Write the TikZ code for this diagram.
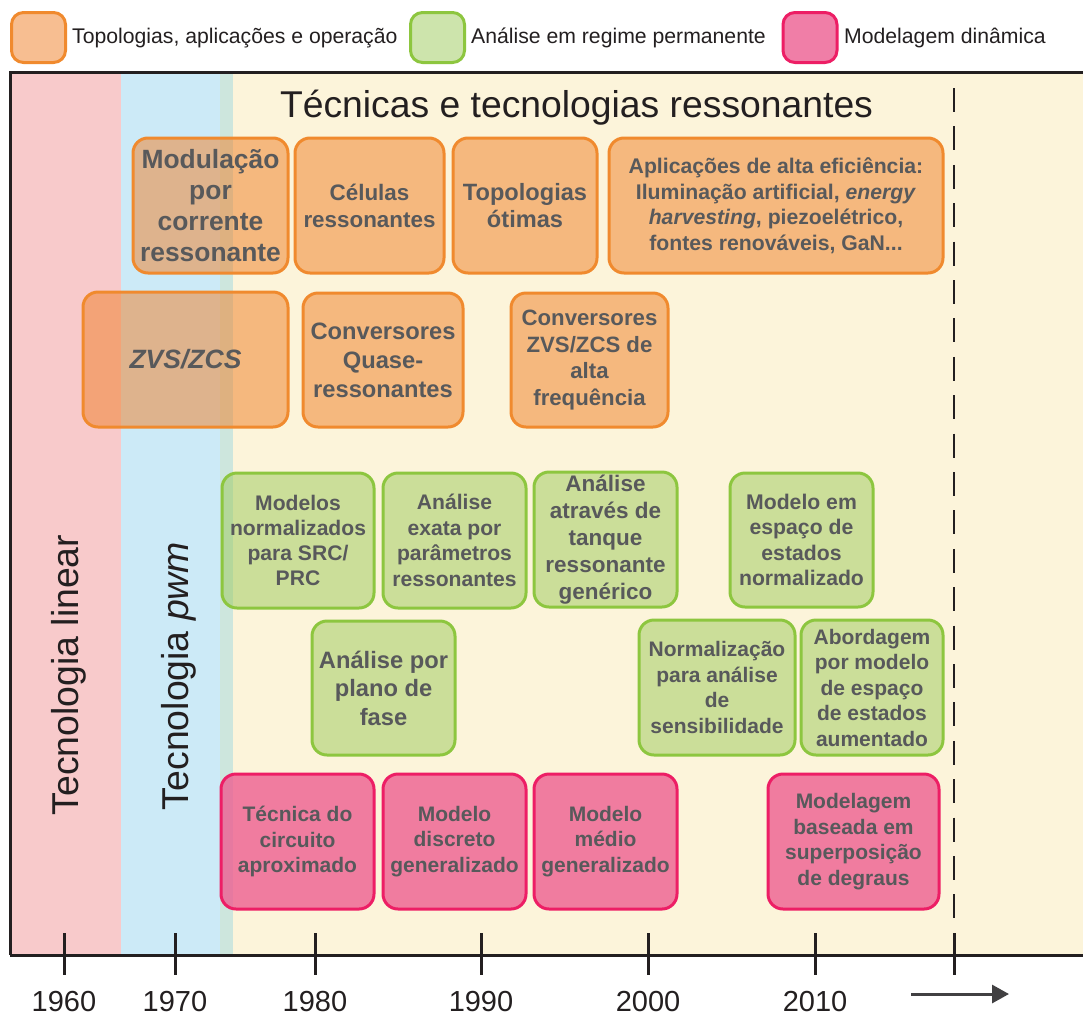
\documentclass[tikz,border=0pt]{standalone}
\usepackage{fontspec}
\setmainfont{Liberation Sans}
\usetikzlibrary{arrows.meta}

\definecolor{txtgray}{HTML}{58595B}
\definecolor{ink}{HTML}{231F20}
\definecolor{arrowgray}{HTML}{414042}
\definecolor{bandpink}{HTML}{F8CACB}
\definecolor{bandblue}{HTML}{CCEAF7}
\definecolor{bandteal}{HTML}{CDE6DD}
\definecolor{bandcream}{HTML}{FCF4DA}
\definecolor{orgline}{HTML}{F08A2E}
\definecolor{orgfill}{RGB}{240,126,36}
\definecolor{grnline}{HTML}{8DC63F}
\definecolor{grnfill}{RGB}{156,202,90}
\definecolor{pnkline}{HTML}{ED1E65}
\definecolor{pnkfill}{RGB}{237,94,145}

\tikzset{
  topicbox/.style={rounded corners=15pt, line width=3pt, inner sep=0pt,
    align=center, text=txtgray, text opacity=1},
  orgbox/.style={topicbox, draw=orgline, fill=orgfill, fill opacity=0.5},
  grnbox/.style={topicbox, draw=grnline, fill=grnfill, fill opacity=0.5},
  pnkbox/.style={topicbox, draw=pnkline, fill=pnkfill, fill opacity=0.8},
  swatch/.style={rounded corners=12pt, line width=3pt, minimum width=54pt,
    minimum height=50pt, inner sep=0pt},
  legendtext/.style={anchor=base west, inner sep=0pt, text=ink,
    font=\fontsize{21.2}{25}\selectfont},
  yearlabel/.style={anchor=base, inner sep=0pt, text=ink,
    font=\fontsize{29}{33}\selectfont},
  eralabel/.style={rotate=90, anchor=base, inner sep=0pt, text=ink,
    font=\fontsize{37.4}{40}\selectfont},
  frameline/.style={line width=3pt, draw=ink},
  tickline/.style={line width=3pt, draw=ink},
}

% box: style, name, x1, y1, x2, y2, font size, leading, text
\newcommand\topic[9]{%
  \node[#1, minimum width={#5-#3}, minimum height={#6-#4},
        font={\fontsize{#7}{#8}\selectfont\bfseries}]
    (#2) at ({(#3+#5)/2},{(#4+#6)/2}) {#9};}

\begin{document}
\begin{tikzpicture}[x=1pt,y=-1pt]
\useasboundingbox (0,0) rectangle (1083,1015);
\fill[white] (0,0) rectangle (1083,1015);

% legend
\node[swatch, draw=orgline, fill=orgfill, fill opacity=0.5] (lgo) at (38.5,37.5) {};
\node[legendtext] (lgot) at (72,43) {Topologias, aplicações e operação};
\node[swatch, draw=grnline, fill=grnfill, fill opacity=0.5] (lgg) at (437.5,37.5) {};
\node[legendtext] (lggt) at (471,43) {Análise em regime permanente};
\node[swatch, draw=pnkline, fill=pnkfill, fill opacity=0.8] (lgp) at (810,37.5) {};
\node[legendtext] (lgpt) at (844,43) {Modelagem dinâmica};

% eras
\fill[bandpink]  (10,72) rectangle (121,955);
\fill[bandblue]  (121,72) rectangle (220,955);
\fill[bandteal]  (220,72) rectangle (233,955);
\fill[bandcream] (233,72) rectangle (1083,955);

\node[eralabel] (linear) at (78,675) {Tecnologia linear};
\node[eralabel] (pwm) at (188,676) {Tecnologia \textit{pwm}};

\node[anchor=base, inner sep=0pt, text=ink, font=\fontsize{37.3}{40}\selectfont]
  (title) at (576.5,117) {Técnicas e tecnologias ressonantes};

% frame
\draw[frameline] (10,955) -- (10,72) -- (1083,72);

% today marker
\draw[line width=2.6pt, draw=ink, dash pattern=on 24pt off 14.4pt] (954,88) -- (954,925);

% topologies, applications and operation
\topic{orgbox}{mod}{133}{138}{288}{273}{26.4}{31}{Modulação\\por\\corrente\\ressonante}
\topic{orgbox}{cel}{295}{138}{444}{273}{22.4}{27}{Células\\ressonantes}
\topic{orgbox}{topo}{453}{138}{597}{273}{23.6}{27}{Topologias\\ótimas}
\topic{orgbox}{apl}{609}{138}{943}{273}{21.2}{25.5}{Aplicações de alta eficiência:\\Iluminação artificial, \textit{energy}\\\textit{harvesting}, piezoelétrico,\\fontes renováveis, GaN...}
\topic{orgbox}{zvs}{83}{292}{288}{427}{26.5}{31}{\textit{ZVS/ZCS}}
\topic{orgbox}{cqr}{303}{293}{463}{427}{23.7}{29}{Conversores\\Quase-\\ressonantes}
\topic{orgbox}{czvs}{511}{293}{668}{427}{22.2}{26.7}{Conversores\\ZVS/ZCS de\\alta\\frequência}

% steady-state analysis
\topic{grnbox}{mnorm}{222}{473}{374}{608}{21.1}{25}{Modelos\\normalizados\\para SRC/\\PRC}
\topic{grnbox}{aexata}{383}{473}{526}{608}{21.1}{25.5}{Análise\\exata por\\parâmetros\\ressonantes}
\topic{grnbox}{atanque}{534}{472}{677}{607}{22.5}{27}{Análise\\através de\\tanque\\ressonante\\genérico}
\topic{grnbox}{mesp}{730}{473}{873}{607}{21.2}{25.5}{Modelo em\\espaço de\\estados\\normalizado}
\topic{grnbox}{aplano}{312}{621}{455}{755}{23.7}{28.5}{Análise por\\plano de\\fase}
\topic{grnbox}{nsens}{639}{620}{795}{755}{21}{25.7}{Normalização\\para análise\\de\\sensibilidade}
\topic{grnbox}{abord}{801}{620}{943}{755}{21}{25.5}{Abordagem\\por modelo\\de espaço\\de estados\\aumentado}

% dynamic modelling
\topic{pnkbox}{tec}{221}{774}{374}{909}{21}{25.5}{Técnica do\\circuito\\aproximado}
\topic{pnkbox}{mdisc}{383}{774}{526}{909}{21}{25.5}{Modelo\\discreto\\generalizado}
\topic{pnkbox}{mmed}{534}{774}{677}{909}{21}{25.5}{Modelo\\médio\\generalizado}
\topic{pnkbox}{mdeg}{768}{774}{939}{909}{21}{25.5}{Modelagem\\baseada em\\superposição\\de degraus}

% time axis
\draw[frameline] (10,955) -- (1083,955);
\foreach \x/\yr in {64/1960, 175/1970, 315/1980, 481/1990, 648/2000, 815/2010} {
  \draw[tickline] (\x,933) -- (\x,975);
  \node[yearlabel] (y\yr) at (\x,1011) {\yr};
}
\draw[tickline] (954,933) -- (954,975);

\coordinate (arrowfrom) at (911,994);
\coordinate (arrowto) at (1009,994);
\draw[line width=3pt, draw=arrowgray, -{Triangle[length=17pt,width=18pt]}]
  (arrowfrom) -- (arrowto);
\end{tikzpicture}
\end{document}
